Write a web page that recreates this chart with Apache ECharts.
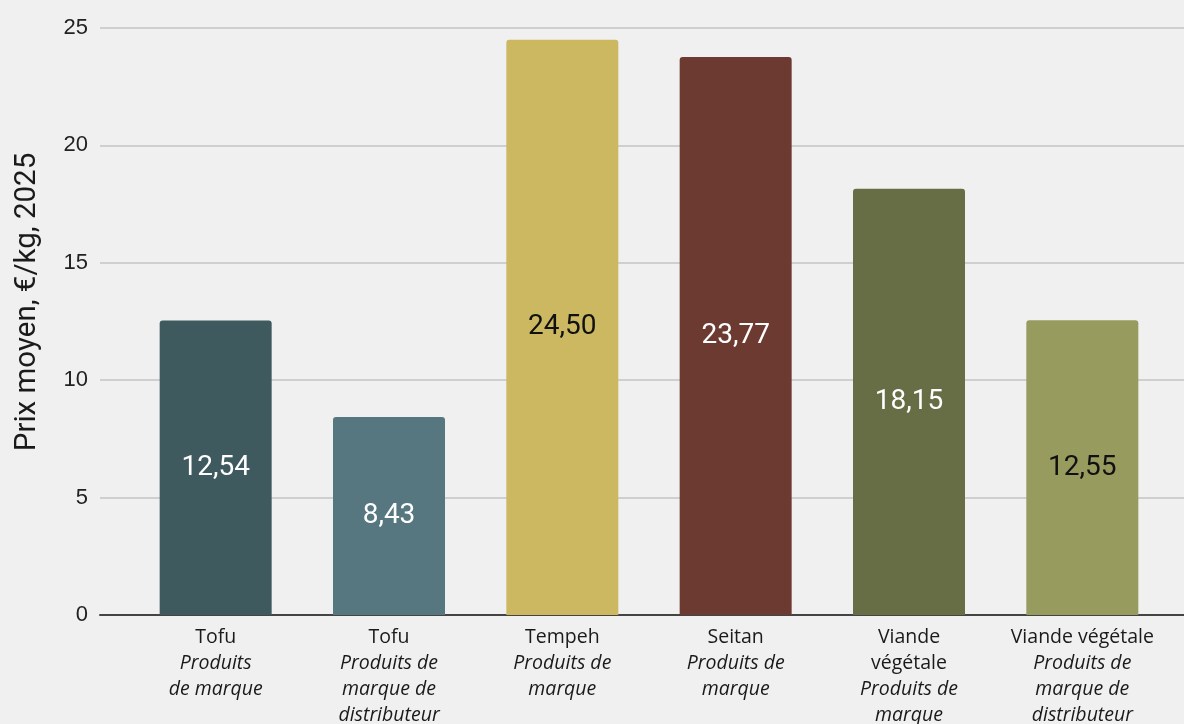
<!DOCTYPE html>
<html><head><meta charset="utf-8">
<script src="https://cdn.jsdelivr.net/npm/echarts@6/dist/echarts.min.js"></script>
<style>html,body{margin:0;padding:0;background:#F0F0F0}#c{width:1184px;height:724px}</style>
</head><body><div id="c"></div>
<script>
const categories = [
  ['Tofu', '*Produits', '*de marque'],
  ['Tofu', '*Produits de', '*marque de', '*distributeur'],
  ['Tempeh', '*Produits de', '*marque'],
  ['Seitan', '*Produits de', '*marque'],
  ['Viande', 'végétale', '*Produits de', '*marque'],
  ['Viande végétale', '*Produits de', '*marque de', '*distributeur']
];
const values = [12.54, 8.43, 24.50, 23.77, 18.15, 12.55];
const barColors = ['#3E5A5F', '#56777F', '#CDB862', '#6D3A32', '#676E45', '#979B5E'];
const labelColors = ['#ffffff', '#ffffff', '#111111', '#ffffff', '#ffffff', '#111111'];
const yTicks = [0, 5, 10, 15, 20, 25];
const yTitle = 'Prix moyen, €/kg, 2025';

function fmtCat(parts) {
  return parts.map(p => p.startsWith('*') ? '{i|' + p.slice(1) + '}' : '{n|' + p + '}').join('\n');
}
const catLabels = categories.map(fmtCat);

const chart = echarts.init(document.getElementById('c'));
chart.setOption({
  backgroundColor: '#F0F0F0',
  animation: false,
  grid: [
    { left: 100, right: 0, top: 28, bottom: 109, outerBoundsMode: 'none' },
    { left: 129, right: 15, top: 28, bottom: 109, outerBoundsMode: 'none' }
  ],
  xAxis: [
    { gridIndex: 0, type: 'value', min: 0, max: 1, show: true,
      axisLabel: { show: false }, axisTick: { show: false }, splitLine: { show: false },
      axisLine: { show: true, onZero: false, lineStyle: { color: '#444', width: 2 } } },
    { gridIndex: 1, type: 'category', data: catLabels,
      axisLine: { show: false }, axisTick: { show: false },
      axisLabel: { interval: 0, margin: 9, color: '#1a1a1a', align: 'center',
        rich: {
          n: { fontFamily: 'Open Sans', fontSize: 19.5, lineHeight: 26, color: '#1a1a1a' },
          i: { fontFamily: 'Open Sans', fontStyle: 'italic', fontSize: 19.5, lineHeight: 26, color: '#1a1a1a' }
        } } }
  ],
  yAxis: [
    { gridIndex: 0, type: 'value', min: 0, max: 25, interval: 5,
      axisLine: { show: false }, axisTick: { show: false },
      axisLabel: { margin: 12, fontFamily: 'Liberation Sans', fontSize: 22, color: '#222',
        formatter: v => yTicks.includes(v) ? String(v) : '' },
      splitLine: { show: true, lineStyle: { color: '#cfcfcf', width: 2 } } },
    { gridIndex: 1, type: 'value', min: 0, max: 25, interval: 5, show: false }
  ],
  graphic: [{
    type: 'text', x: 28, y: 302, rotation: Math.PI / 2,
    style: { text: yTitle, font: '29.5px Roboto', fill: '#1a1a1a', align: 'center', verticalAlign: 'middle' }
  }],
  series: [{
    type: 'bar', xAxisIndex: 1, yAxisIndex: 1, barWidth: 112,
    data: values.map((v, i) => ({
      value: v,
      itemStyle: { color: barColors[i], borderRadius: [3, 3, 0, 0] },
      label: { color: labelColors[i] }
    })),
    label: { show: true, position: 'inside', fontFamily: 'Roboto', fontSize: 28,
      formatter: p => p.value.toFixed(2).replace('.', ',') }
  }]
});
</script></body></html>
